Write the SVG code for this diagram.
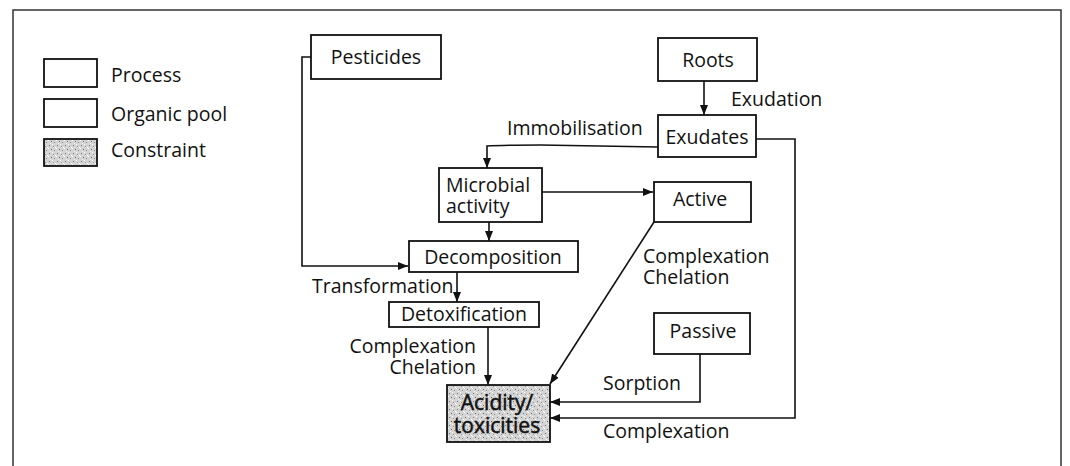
<svg xmlns="http://www.w3.org/2000/svg" width="1070" height="466" viewBox="0 0 1070 466">
<style>
text{font-family:"Open Sans","Liberation Sans",sans-serif;font-size:19.5px;fill:#111}
.box{fill:#fff;stroke:#111;stroke-width:1.8}
.shade{fill:url(#stip);stroke:#111;stroke-width:1.8}
.c{text-anchor:middle}
.e{text-anchor:end}
.con path{fill:none;stroke:#111;stroke-width:1.6}
.big{font-size:21px;stroke:#111;stroke-width:0.5}
</style>
<defs>
<marker id="ah" viewBox="0 0 10 8" refX="10" refY="4" markerWidth="10" markerHeight="8" markerUnits="userSpaceOnUse" orient="auto">
<path d="M0,0 L10,4 L0,8 Z" fill="#111"/>
</marker>
<pattern id="stip" width="8" height="8" patternUnits="userSpaceOnUse">
<rect width="8" height="8" fill="#d4d4d4"/>
<rect x="1" y="1" width="1" height="1" fill="#777"/>
<rect x="5" y="2" width="1" height="1" fill="#999"/>
<rect x="3" y="5" width="1" height="1" fill="#666"/>
<rect x="6" y="6" width="1" height="1" fill="#888"/>
<rect x="0" y="4" width="1" height="1" fill="#fff"/>
<rect x="4" y="0" width="1" height="1" fill="#fff"/>
<rect x="2" y="7" width="1" height="1" fill="#f4f4f4"/>
<rect x="7" y="3" width="1" height="1" fill="#fff"/>
</pattern>
</defs>

<g id="frame"><path d="M13,466 V10 H1061 V466" fill="none" stroke="#333" stroke-width="1.5"/></g>

<g id="legend">
<rect class="box" x="44" y="59" width="53" height="28"/>
<text x="111" y="82">Process</text>
<rect class="box" x="44" y="99" width="53" height="28"/>
<text x="111" y="121">Organic pool</text>
<rect class="shade" x="44" y="139" width="53" height="27"/>
<text x="111" y="157">Constraint</text>
</g>

<g class="con" id="connectors">
<path d="M311,57 H302 V266 H408" marker-end="url(#ah)"/>
<path d="M704,81 V115" marker-end="url(#ah)"/>
<path d="M658,147 L540,145 Q500,145 487,146 V168" marker-end="url(#ah)"/>
<path d="M756,139 H795 V418 H550" marker-end="url(#ah)"/>
<path d="M542,192 H653" marker-end="url(#ah)"/>
<path d="M489,222 V241" marker-end="url(#ah)"/>
<path d="M457,272 V302" marker-end="url(#ah)"/>
<path d="M488,327 V385" marker-end="url(#ah)"/>
<path d="M654,222 L550,384" marker-end="url(#ah)"/>
<path d="M700,354 V402 H550" marker-end="url(#ah)"/>
</g>

<g id="labels">
<text x="731" y="106">Exudation</text>
<text x="507" y="135">Immobilisation</text>
<text x="312" y="293">Transformation</text>
<text class="e" x="476" y="353">Complexation<tspan x="476" dy="21">Chelation</tspan></text>
<text x="643" y="263">Complexation<tspan x="643" dy="21">Chelation</tspan></text>
<text x="603" y="390">Sorption</text>
<text x="603" y="438">Complexation</text>
</g>

<g id="pesticides"><rect class="box" x="311" y="35" width="130" height="44"/><text class="c" x="376" y="64">Pesticides</text></g>
<g id="roots"><rect class="box" x="658" y="38" width="99" height="43"/><text class="c" x="708" y="67">Roots</text></g>
<g id="exudates"><rect class="box" x="658" y="115" width="98" height="42"/><text class="c" x="707" y="144">Exudates</text></g>
<g id="microbial"><rect class="box" x="439" y="168" width="103" height="54"/><text x="446" y="192">Microbial<tspan x="446" dy="21">activity</tspan></text></g>
<g id="active"><rect class="box" x="654" y="182" width="97" height="40"/><text class="c" x="700" y="206">Active</text></g>
<g id="decomposition"><rect class="box" x="409" y="241" width="169" height="31"/><text class="c" x="493" y="264">Decomposition</text></g>
<g id="detoxification"><rect class="box" x="389" y="302" width="150" height="25"/><text class="c" x="464" y="321">Detoxification</text></g>
<g id="passive"><rect class="box" x="654" y="313" width="96" height="41"/><text class="c" x="703" y="338">Passive</text></g>
<g id="acidity"><rect class="shade" x="447" y="385" width="103" height="57"/><text class="c big" x="497" y="410">Acidity/<tspan x="497" dy="23">toxicities</tspan></text></g>
</svg>
